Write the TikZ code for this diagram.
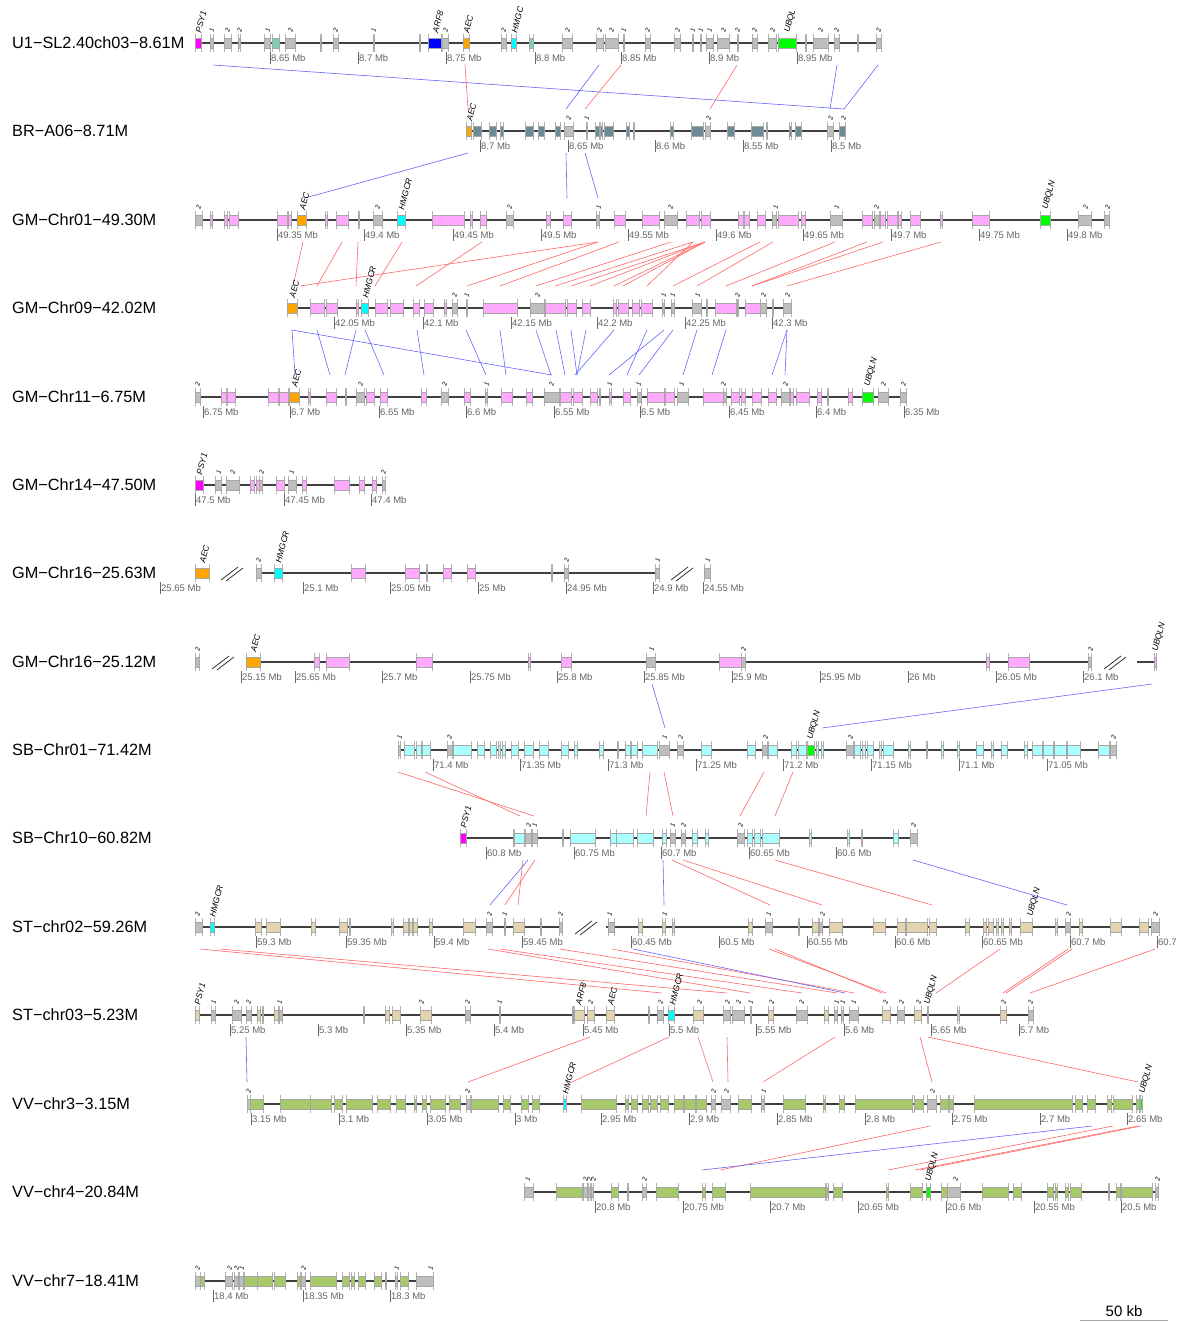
\documentclass[tikz,border=0pt]{standalone}
\usepackage{fontspec}
\setmainfont{Liberation Sans}
\usetikzlibrary{positioning}

\definecolor{cgray}{HTML}{BEBEBE}
\definecolor{cmag}{HTML}{FF00FF}
\definecolor{cteal}{HTML}{7FCDB4}
\definecolor{cblue}{HTML}{0000FF}
\definecolor{corange}{HTML}{FFA500}
\definecolor{ccyan}{HTML}{00FFFF}
\definecolor{cgreen}{HTML}{00FF00}
\definecolor{cslate}{HTML}{6E8B98}
\definecolor{cpink}{HTML}{FFAAFF}
\definecolor{clcyan}{HTML}{AAFFFF}
\definecolor{ctan}{HTML}{E3D3AE}
\definecolor{colive}{HTML}{A8C96A}

% gene boxes of one track: y, list of start/end/colour
\newcommand{\generow}[2]{%
  \foreach \ga/\gb/\gc in {#2}{
    \draw[bnd] (\ga,#1-9) -- (\ga,#1+9) (\gb,#1-9) -- (\gb,#1+9);
    \draw[gbox, fill=\gc] (\ga,#1-5) rectangle (\gb,#1+5);
  }}
% axis ticks: y, list of x/value
\newcommand{\tickrow}[2]{%
  \foreach \tx/\tkl in {#2}{
    \draw[tickm] (\tx,#1+9) -- (\tx,#1+21);
    \node[ticklbl] at (\tx,#1+15) {\tkl\ Mb};
  }}
\newcommand{\namerow}[2]{\foreach \nx/\nlab in {#2}{\node[glbl] at (\nx,#1-10) {\nlab};}}
\newcommand{\numrow}[2]{\foreach \nx/\nlab in {#2}{\node[nlbl] at (\nx,#1-10) {\nlab};}}
% links: style, top y, bottom y, list of xtop/xbottom
\newcommand{\linkrow}[4]{\foreach \lka/\lkb in {#4}{\draw[#1] (\lka,#2) -- (\lkb,#3);}}

\begin{document}
\begin{tikzpicture}[
  x=1pt, y=-1pt,
  trk/.style={line width=1.2pt, black!75},
  bnd/.style={gray!60, line width=0.4pt},
  gbox/.style={draw=gray!70, line width=0.4pt},
  tickm/.style={black!60, line width=0.9pt},
  ticklbl/.style={font=\fontsize{9.5}{10}\selectfont, text=black!60, anchor=west, inner sep=1pt},
  tname/.style={font=\fontsize{16.3}{18}\selectfont, anchor=west, inner sep=0pt},
  glbl/.style={font=\fontsize{8.5}{9}\selectfont\itshape, rotate=75, anchor=west, inner sep=0.5pt},
  nlbl/.style={font=\fontsize{6.5}{7}\selectfont\itshape, rotate=75, anchor=west, inner sep=0.5pt},
  lnkr/.style={red!60, line width=0.6pt},
  lnkb/.style={blue!60, line width=0.6pt},
  brk/.style={black!80, line width=0.8pt},
]
\fill[white] (0,0) rectangle (1181,1322);
\useasboundingbox (0,0) rectangle (1181,1322);

% --- Track names ---
\node[tname] (nU1)   at (12,43)   {U1−SL2.40ch03−8.61M};
\node[tname] (nBR)   at (12,131)  {BR−A06−8.71M};
\node[tname] (nGM1)  at (12,220)  {GM−Chr01−49.30M};
\node[tname] (nGM9)  at (12,308)  {GM−Chr09−42.02M};
\node[tname] (nGM11) at (12,397)  {GM−Chr11−6.75M};
\node[tname] (nGM14) at (12,485)  {GM−Chr14−47.50M};
\node[tname] (nGM16a) at (12,573) {GM−Chr16−25.63M};
\node[tname] (nGM16b) at (12,662) {GM−Chr16−25.12M};
\node[tname] (nSB1)  at (12,750)  {SB−Chr01−71.42M};
\node[tname] (nSB10) at (12,838)  {SB−Chr10−60.82M};
\node[tname] (nST2)  at (12,927)  {ST−chr02−59.26M};
\node[tname] (nST3)  at (12,1015) {ST−chr03−5.23M};
\node[tname] (nVV3)  at (12,1104) {VV−chr3−3.15M};
\node[tname] (nVV4)  at (12,1192) {VV−chr4−20.84M};
\node[tname] (nVV7)  at (12,1281) {VV−chr7−18.41M};

% --- Links ---
\linkrow{lnkb}{65}{109}{213/844, 837/830, 878/844, 599/566}
\linkrow{lnkr}{65}{109}{465/468, 621/585, 737/710}
\linkrow{lnkb}{153}{198}{468/305, 566/567, 585/598}
\linkrow{lnkr}{242}{286}{303/293, 342/317, 358/356, 402/375, 482/416, 598/300, 598/467,
  619/500, 671/536, 693/555, 705/571, 705/590, 705/614, 705/623, 693/647, 760/673,
  773/697, 835/726, 867/752, 883/752, 941/787}
\linkrow{lnkb}{330}{375}{292/295, 292/552, 317/330, 356/345, 365/384, 417/424, 466/486,
  500/506, 536/551, 556/565, 571/577, 586/577, 614/575, 647/627, 664/609, 673/639,
  697/683, 726/712, 787/772, 787/785}
\linkrow{lnkb}{684}{728}{652/665, 1152/822}
\linkrow{lnkr}{772}{816}{398/534, 425/520, 650/646, 664/673, 764/740, 793/775}
\linkrow{lnkb}{860}{905}{528/490, 663/664, 913/1067}
\linkrow{lnkr}{860}{905}{535/505, 523/518, 672/770, 683/822, 775/932}
\linkrow{lnkr}{949}{993}{200/662, 220/727, 488/750, 500/802, 560/837, 612/854, 769/886,
  775/882, 1000/936, 1068/1003, 1072/1006, 1155/1030}
\linkrow{lnkb}{949}{993}{633/845}
\linkrow{lnkb}{1037}{1082}{246/247}
\linkrow{lnkr}{1037}{1082}{590/468, 669/572, 698/713, 727/728, 835/763, 920/932, 928/1138}
\linkrow{lnkr}{1126}{1170}{930/720, 1113/888, 1138/915, 1141/920}
\linkrow{lnkb}{1126}{1170}{1092/702}

% --- U1-SL2.40ch03 ---
\draw[trk] (195,43) -- (881,43);
\generow{43}{195/201/cmag, 210/213/cgray, 224/231/cgray, 238/240.5/cgray, 264/270/cgray,
  272/279/cteal, 285/295/cgray, 320/321.5/cgray, 333/338/cgray, 373/374.5/cgray,
  419/420.5/cgray, 428/441/cblue, 442/448/cgray, 463/469/corange, 501/506/cgray,
  511/516/ccyan, 529/533/cteal, 562/572/cgray, 596/603/cgray, 605/618/cgray,
  623/624.5/cgray, 645/650/cgray, 674/680/cgray, 692/693.5/cgray, 700/701.5/cgray,
  706/713/cgray, 717/729/cgray, 737/738.5/cgray, 752/757/cgray, 768/776/cgray,
  778/796/cgreen, 805/806.5/cgray, 813/828/cgray, 834/839/cgray, 857/858.5/cteal,
  876/881/cgray}
\tickrow{43}{270/8.65, 358/8.7, 446/8.75, 535/8.8, 621/8.85, 709/8.9, 797/8.95}
\namerow{43}{198/PSY1, 435/ARF8, 466/AEC, 514/HMGC, 787/UBQL}
\numrow{43}{211/1, 227/2, 239/2, 267/1, 290/2, 335/2, 373/1, 445/2, 503/2, 567/2, 599/2,
  611/2, 623/1, 647/2, 677/2, 692/1, 700/1, 709/1, 723/2, 737/2, 754/2, 772/2, 820/2,
  836/2, 878/2}

% --- BR-A06 ---
\draw[trk] (466,131) -- (846,131);
\generow{131}{466/471/corange, 473/481/cslate, 489/496/cslate, 500/503/cslate,
  525/533/cslate, 538/544/cslate, 555/560/cslate, 564/573/cgray, 586/587.5/cgray,
  595/599/cslate, 600/602/cslate, 604/613/cslate, 626/629/cslate, 633/634.5/cslate,
  670/673/cslate, 691/703/cslate, 705/710/cgray, 727/734/cslate, 751/763/cslate,
  766/767.5/cslate, 789/791/cslate, 795/801/cslate, 827/833/cgray, 839/845/cslate}
\tickrow{131}{480/8.7, 568/8.65, 655/8.6, 743/8.55, 831/8.5}
\namerow{131}{469/AEC}
\numrow{131}{568/2, 586/1, 708/2, 830/2, 843/2}

% --- GM-Chr01 ---
\draw[trk] (195,220) -- (1110,220);
\generow{220}{195/202/cgray, 210/212/cpink, 224/227/cpink, 229/238/cpink, 277/287/cpink,
  288/291/cpink, 297/306/corange, 325/327/cpink, 336/348/cpink, 358/359.5/cpink,
  373/382/cgray, 397/405/ccyan, 432/464/cpink, 470/472/cpink, 480/486/cpink,
  506/513/cgray, 546/550/cpink, 563/571/cpink, 596/599/cgray, 614/625/cpink,
  642/659/cpink, 664/677/cgray, 686/699/cpink, 701/710/cpink, 738/743/cpink,
  744/749/cpink, 757/765/cpink, 772/776/cgray, 778/798/cpink, 801/805/cpink,
  830/842/cgray, 862/872/cpink, 874/879/cgray, 880/885/cpink, 887/897/cpink,
  898/901/cpink, 910/920/cpink, 940/942/cpink, 972/989/cpink, 1040/1050/cgreen,
  1078/1091/cgray, 1104/1109/cgray}
\tickrow{220}{277/49.35, 364/49.4, 453/49.45, 541/49.5, 628/49.55, 716/49.6, 803/49.65,
  891/49.7, 979/49.75, 1067/49.8}
\namerow{220}{302/AEC, 401/HMGCR, 1045/UBQLN}
\numrow{220}{198/2, 377/2, 509/2, 598/1, 670/2, 775/1, 836/1, 876/2, 1085/2, 1107/2}

% --- GM-Chr09 ---
\draw[trk] (287,308) -- (791,308);
\generow{308}{287/297/corange, 310/324/cpink, 326/337/cpink, 356/358/cpink, 361/368/ccyan,
  375/387/cpink, 390/403/cpink, 413/419/cpink, 424/433/cpink, 444/446/cpink,
  452/457/cgray, 466/467.5/cgray, 483/517/cpink, 530/544/cgray, 545/565/cpink,
  567/576/cpink, 582/590/cpink, 613/616/cpink, 618/628/cpink, 632/639/cpink,
  641/652/cpink, 662/664/cgray, 671/674/cgray, 692/701/cgray, 706/707.5/cgray,
  715/736/cpink, 737/738.5/cgray, 745/760/cpink, 760/766/cgray, 772/773.5/cgray,
  783/791/cgray}
\tickrow{308}{334/42.05, 423/42.1, 511/42.15, 597/42.2, 685/42.25, 772/42.3}
\namerow{308}{292/AEC, 365/HMGCR}
\numrow{308}{454/2, 466/1, 537/2, 663/1, 672/1, 697/1, 737/2, 763/2, 787/2}

% --- GM-Chr11 ---
\draw[trk] (195,397) -- (906,397);
\generow{397}{195/200/cgray, 221/226/cpink, 227/235/cpink, 268/278/cpink, 279/288/cpink,
  289/299/corange, 308/310/cpink, 326/336/cpink, 345/346.5/cpink, 356/364/cgray,
  366/374/cpink, 380/387/cpink, 421/426/cpink, 441/448/cgray, 464/470/cpink,
  485/487/cgray, 501/512/cpink, 526/532/cpink, 544/559/cgray, 560/571/cpink,
  573/582/cpink, 590/597/cpink, 599/600.5/cpink, 609/611/cpink, 623/630/cpink,
  637/641/cgray, 647/664/cpink, 665/674/cpink, 677/688/cgray, 703/723/cpink,
  723/726/cgray, 731/739/cpink, 741/745/cpink, 752/761/cpink, 768/776/cpink,
  781/789/cgray, 790/793/cpink, 796/809/cpink, 817/821/cpink, 827/828.5/cpink,
  848/852/cpink, 862/873/cgreen, 878/888/cgray, 900/906/cgray}
\tickrow{397}{203/6.75, 290/6.7, 379/6.65, 466/6.6, 554/6.55, 640/6.5, 729/6.45, 816/6.4,
  904/6.35}
\namerow{397}{294/AEC, 867/UBQLN}
\numrow{397}{197/2, 360/2, 444/2, 486/1, 551/2, 609/1, 638/1, 681/1, 723/2, 785/2, 883/2,
  903/2}

% --- GM-Chr14 ---
\draw[trk] (195,485) -- (385,485);
\generow{485}{195/203/cmag, 215/221/cgray, 226/239/cgray, 250/254/cpink, 256/259/cpink,
  259/262/cgray, 276/284/cpink, 288/296/cgray, 302/306/cpink, 334/349/cpink,
  359/364/cpink, 372/376/cpink, 382/385/cgray}
\tickrow{485}{195/47.5, 284/47.45, 371/47.4}
\namerow{485}{199/PSY1}
\numrow{485}{218/1, 232/2, 261/2, 291/1, 383/2}

% --- GM-Chr16 (25.63M) ---
\draw[trk] (256,573) -- (659,573);
\draw[brk] (221,580) -- (238,567) (226,581) -- (243,568);
\draw[brk] (671,580) -- (688,567) (676,581) -- (693,568);
\generow{573}{195/209/corange, 256/261/cgray, 274/282/ccyan, 351/365/cpink, 405/419/cpink,
  426/427.5/cpink, 443/451/cpink, 467/475/cpink, 551/552.5/cpink, 564/568/cgray,
  655/659/cgray, 704/710/cgray}
\tickrow{573}{160/25.65, 303/25.1, 390/25.05, 478/25, 566/24.95, 653/24.9, 703/24.55}
\namerow{573}{202/AEC, 278/HMGCR}
\numrow{573}{258/2, 566/2, 657/1, 707/1}

% --- GM-Chr16 (25.12M) ---
\draw[trk] (246,662) -- (1092,662);
\draw[trk] (1137,662) -- (1157,662);
\draw[brk] (212,669) -- (229,656) (217,670) -- (234,657);
\draw[brk] (1104,669) -- (1121,656) (1109,670) -- (1126,657);
\generow{662}{195/199/cgray, 246/260/corange, 314/319/cpink, 326/349/cpink, 416/432/cpink,
  528/530/cpink, 561/571/cpink, 646/655/cgray, 719/741/cpink, 741/745/cgray,
  986/989/cpink, 1008/1029/cpink, 1088/1091/cgray, 1154/1156/cpink}
\tickrow{662}{241/25.15, 295/25.65, 382/25.7, 470/25.75, 557/25.8, 644/25.85, 732/25.9,
  820/25.95, 908/26, 996/26.05, 1083/26.1}
\namerow{662}{253/AEC, 1155/UBQLN}
\numrow{662}{197/2, 651/1, 743/2, 1090/2}

% --- SB-Chr01 ---
\draw[trk] (398,750) -- (1116,750);
\generow{750}{398/400/cgray, 404/414/clcyan, 416/421/clcyan, 422/430/clcyan, 447/452/cgray,
  453/471/clcyan, 477/484/clcyan, 490/496/clcyan, 498/500/clcyan, 502/505/clcyan,
  511/518/clcyan, 524/533/clcyan, 539/548/clcyan, 561/568/clcyan, 574/577/clcyan,
  599/603/clcyan, 617/618.5/clcyan, 625/630/clcyan, 631/637/clcyan, 642/657/clcyan,
  659/669/cgray, 677/683/cgray, 701/711/clcyan, 747/755/clcyan, 762/767/cgray,
  768/777/clcyan, 791/796/clcyan, 798/806/clcyan, 807/814/cgreen, 816/818/clcyan,
  821/823/clcyan, 846/853/cgray, 854/860/clcyan, 862/865/clcyan, 867/873/clcyan,
  879/881/clcyan, 883/893/clcyan, 908/910/clcyan, 926/927.5/clcyan, 941/943/clcyan,
  957/959/clcyan, 976/983/clcyan, 991/993/clcyan, 1001/1007/clcyan, 1024/1027/clcyan,
  1032/1042/clcyan, 1043/1053/clcyan, 1054/1066/clcyan, 1067/1080/clcyan,
  1098/1109/clcyan, 1110/1116/cgray}
\tickrow{750}{433/71.4, 520/71.35, 608/71.3, 696/71.25, 783/71.2, 871/71.15, 959/71.1,
  1047/71.05}
\namerow{750}{810/UBQLN}
\numrow{750}{399/1, 449/2, 664/1, 680/2, 765/2, 850/2, 1113/2}

% --- SB-Chr10 ---
\draw[trk] (460,838) -- (917,838);
\generow{838}{460/466/cmag, 513/514/cgray, 514/524/clcyan, 525/531/cgray, 532/537/cgray,
  562/563.5/clcyan, 570/595/clcyan, 610/616/clcyan, 616/633/clcyan, 637/653/clcyan,
  662/666/clcyan, 670/675/cgray, 681/685/cgray, 692/697/clcyan, 705/708/clcyan,
  737/744/cgray, 747/752/clcyan, 754/760/clcyan, 762/779/clcyan, 809/811/clcyan,
  847/849/clcyan, 861/862.5/clcyan, 893/898/clcyan, 910/917/cgray}
\tickrow{838}{486/60.8, 574/60.75, 661/60.7, 749/60.65, 836/60.6}
\namerow{838}{463/PSY1}
\numrow{838}{528/2, 534/1, 672/1, 683/2, 740/2, 913/2}

% --- ST-chr02 ---
\draw[trk] (195,927) -- (562,927);
\draw[trk] (606,927) -- (1159,927);
\draw[brk] (575,934) -- (592,921) (580,935) -- (597,922);
\generow{927}{195/202/cgray, 210/214/ccyan, 255/261/ctan, 266/280/ctan, 311/315/ctan,
  339/347/ctan, 349/350.5/ctan, 391/393/ctan, 403/408/ctan, 409/412/ctan, 413/417/ctan,
  429/432/ctan, 463/475/ctan, 486/492/cgray, 504/505.5/cgray, 513/524/ctan,
  540/541.5/ctan, 559/562/cgray, 608/614/cgray, 638/642/ctan, 662/665/ctan,
  672/674/ctan, 748/752/ctan, 765/772/cgray, 798/799.5/ctan, 812/818/ctan,
  819/822/cgray, 829/842/ctan, 873/885/ctan, 897/905/ctan, 906/927/ctan, 929/936/ctan,
  965/969/ctan, 983/986/ctan, 988/993/ctan, 996/998/ctan, 1001/1003/ctan,
  1009/1011/ctan, 1020/1032/ctan, 1055/1057/ctan, 1065/1070/cgray, 1079/1082/ctan,
  1110/1121/ctan, 1139/1148/ctan, 1151/1159/cgray}
\tickrow{927}{256/59.3, 346/59.35, 434/59.4, 522/59.45, 631/60.45, 719/60.5, 807/60.55,
  895/60.6, 982/60.65, 1070/60.7}
\draw[tickm] (1157,936) -- (1157,948);
\node[ticklbl] (tST2end) at (1157,942) {60.7};
\namerow{927}{212/HMGCR, 1030/UBQLN}
\numrow{927}{197/2, 489/2, 504/1, 560/2, 609/1, 664/1, 768/1, 822/2, 1068/2, 1155/2}

% --- ST-chr03 ---
\draw[trk] (195,1015) -- (1033,1015);
\generow{1015}{195/199/ctan, 211/215/cgray, 232/241/cgray, 246/251/cgray, 257/260/ctan,
  262/263.5/ctan, 274/278/ctan, 279/282/cgray, 363/364.5/ctan, 385/389/ctan,
  392/400/ctan, 420/431/ctan, 465/470/cgray, 499/500.5/cgray, 572/573.5/cblue,
  574/584/ctan, 587/594/ctan, 606/614/ctan, 648/649.5/ctan, 657/663/cgray,
  668/674/ccyan, 693/703/ctan, 723/730/cgray, 732/744/cgray, 750/751.5/cgray,
  768/773/ctan, 796/807/cgray, 824/828/ctan, 834/837/cgray, 841/843/cgray,
  849/858/cgray, 882/890/ctan, 897/904/cgray, 914/921/ctan, 927/928.5/ctan,
  957/959/ctan, 1000/1006/ctan, 1028/1033/cgray}
\tickrow{1015}{230/5.25, 318/5.3, 406/5.35, 494/5.4, 583/5.45, 669/5.5, 756/5.55, 844/5.6,
  931/5.65, 1019/5.7}
\namerow{1015}{197/PSY1, 578/ARF8, 610/AEC, 672/HMGCR, 927/UBQLN}
\numrow{1015}{213/1, 236/2, 248/2, 279/1, 421/2, 467/2, 499/1, 590/2, 660/2, 699/2, 727/2,
  738/2, 750/1, 771/2, 801/2, 836/1, 842/1, 853/1, 885/2, 901/2, 918/2, 1003/2, 1030/2}

% --- VV-chr3 ---
\draw[trk] (247,1104) -- (1142,1104);
\generow{1104}{247/250/cgray, 250/263/colive, 280/310/colive, 310/331/colive,
  334/342/colive, 346/372/colive, 377/390/colive, 396/405/colive, 414/416/colive,
  422/426/colive, 430/445/colive, 449/460/colive, 466/470/cgray, 471/498/colive,
  503/510/colive, 521/528/colive, 532/539/colive, 563/566/ccyan, 581/616/colive,
  625/628/colive, 631/637/colive, 642/648/colive, 650/657/colive, 660/668/colive,
  674/683/colive, 684/695/colive, 696/706/colive, 711/715/cgray, 721/730/cgray,
  738/751/colive, 761/764/cgray, 783/805/colive, 823/825/colive, 839/844/colive,
  855/912/colive, 914/923/colive, 927/936/cgray, 940/948/colive, 949/953/colive,
  974/1072/colive, 1075/1082/colive, 1087/1095/colive, 1107/1111/colive,
  1113/1132/colive, 1136/1139/colive, 1140/1142/cgreen}
\tickrow{1104}{251/3.15, 339/3.1, 427/3.05, 515/3, 601/2.95, 689/2.9, 777/2.85, 865/2.8,
  952/2.75, 1040/2.7, 1127/2.65}
\namerow{1104}{565/HMGCR, 1142/UBQLN}
\numrow{1104}{248/2, 467/2, 713/2, 726/2, 763/1, 932/2}

% --- VV-chr4 ---
\draw[trk] (524,1192) -- (1158,1192);
\generow{1192}{524/533/cgray, 556/582/colive, 583/587/cgray, 588/590/cgray, 591/593/cgray,
  611/618/colive, 627/628.5/colive, 642/646/cgray, 656/678/colive, 702/705/colive,
  712/725/colive, 750/825/colive, 826/828/colive, 833/842/colive, 886/888/colive,
  910/922/colive, 926/930/cgreen, 941/947/colive, 947/960/cgray, 982/1008/colive,
  1013/1021/colive, 1047/1053/colive, 1055/1057/colive, 1065/1068/colive,
  1070/1081/colive, 1108/1109.5/colive, 1116/1120/colive, 1121/1152/colive,
  1155/1158/cgray}
\tickrow{1192}{595/20.8, 683/20.75, 770/20.7, 858/20.65, 946/20.6, 1034/20.55, 1121/20.5}
\namerow{1192}{928/UBQLN}
\numrow{1192}{527/1, 585/2, 589/2, 593/2, 644/2, 955/2, 1157/2}

% --- VV-chr7 ---
\draw[trk] (195,1281) -- (433,1281);
\generow{1281}{195/200/cgray, 200/204/colive, 225/232/cgray, 234/238/cgray, 239/243/cgray,
  244/257/colive, 257/272/colive, 274/285/colive, 297/300/colive, 301/305/cgray,
  310/336/colive, 342/349/colive, 351/354/colive, 358/365/colive, 374/381/colive,
  385/386.5/colive, 395/397/cgray, 400/408/colive, 416/433/cgray}
\tickrow{1281}{213/18.4, 303/18.35, 390/18.3}
\numrow{1281}{197/2, 229/2, 236/2, 241/1, 303/2, 396/1, 430/1}

% --- Scale bar ---
\node[font=\fontsize{15}{17}\selectfont] (scl) at (1124,1311) {50 kb};
\draw[gray!70, line width=0.6pt] (1080,1320) -- (1168,1320);

\end{tikzpicture}
\end{document}
